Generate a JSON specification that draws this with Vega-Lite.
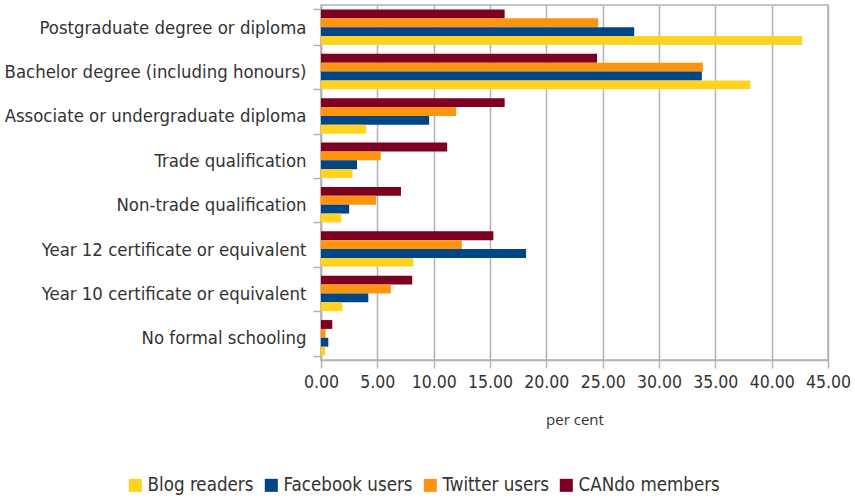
{
  "$schema": "https://vega.github.io/schema/vega-lite/v6.json",
  "width": 507,
  "height": 355,
  "autosize": {"type": "none"},
  "padding": {"left": 321, "top": 5, "right": 27, "bottom": 139},
  "data": {
    "values": [
      {"category": "Postgraduate degree or diploma", "series": "CANdo members", "value": 16.3},
      {"category": "Postgraduate degree or diploma", "series": "Twitter users", "value": 24.6},
      {"category": "Postgraduate degree or diploma", "series": "Facebook users", "value": 27.8},
      {"category": "Postgraduate degree or diploma", "series": "Blog readers", "value": 42.7},
      {"category": "Bachelor degree (including honours)", "series": "CANdo members", "value": 24.5},
      {"category": "Bachelor degree (including honours)", "series": "Twitter users", "value": 33.9},
      {"category": "Bachelor degree (including honours)", "series": "Facebook users", "value": 33.8},
      {"category": "Bachelor degree (including honours)", "series": "Blog readers", "value": 38.1},
      {"category": "Associate or undergraduate diploma", "series": "CANdo members", "value": 16.3},
      {"category": "Associate or undergraduate diploma", "series": "Twitter users", "value": 12.0},
      {"category": "Associate or undergraduate diploma", "series": "Facebook users", "value": 9.6},
      {"category": "Associate or undergraduate diploma", "series": "Blog readers", "value": 4.0},
      {"category": "Trade qualification", "series": "CANdo members", "value": 11.2},
      {"category": "Trade qualification", "series": "Twitter users", "value": 5.3},
      {"category": "Trade qualification", "series": "Facebook users", "value": 3.2},
      {"category": "Trade qualification", "series": "Blog readers", "value": 2.8},
      {"category": "Non-trade qualification", "series": "CANdo members", "value": 7.1},
      {"category": "Non-trade qualification", "series": "Twitter users", "value": 4.9},
      {"category": "Non-trade qualification", "series": "Facebook users", "value": 2.5},
      {"category": "Non-trade qualification", "series": "Blog readers", "value": 1.8},
      {"category": "Year 12 certificate or equivalent", "series": "CANdo members", "value": 15.3},
      {"category": "Year 12 certificate or equivalent", "series": "Twitter users", "value": 12.5},
      {"category": "Year 12 certificate or equivalent", "series": "Facebook users", "value": 18.2},
      {"category": "Year 12 certificate or equivalent", "series": "Blog readers", "value": 8.2},
      {"category": "Year 10 certificate or equivalent", "series": "CANdo members", "value": 8.1},
      {"category": "Year 10 certificate or equivalent", "series": "Twitter users", "value": 6.2},
      {"category": "Year 10 certificate or equivalent", "series": "Facebook users", "value": 4.2},
      {"category": "Year 10 certificate or equivalent", "series": "Blog readers", "value": 1.9},
      {"category": "No formal schooling", "series": "CANdo members", "value": 1.0},
      {"category": "No formal schooling", "series": "Twitter users", "value": 0.4},
      {"category": "No formal schooling", "series": "Facebook users", "value": 0.65},
      {"category": "No formal schooling", "series": "Blog readers", "value": 0.37}
    ]
  },
  "mark": {"type": "bar"},
  "encoding": {
    "y": {
      "field": "category",
      "type": "nominal",
      "sort": null,
      "scale": {"paddingInner": 0.2, "paddingOuter": 0.1},
      "axis": {
        "title": null,
        "labelFontSize": 18.4,
        "labelFont": "DejaVu Sans Condensed",
        "labelColor": "#333333",
        "labelPadding": 7,
        "labelLimit": 330,
        "tickBand": "extent",
        "tickSize": 8,
        "tickColor": "#b3b3b3",
        "tickWidth": 1.5,
        "domainColor": "#b3b3b3",
        "domainWidth": 1.5
      }
    },
    "yOffset": {
      "field": "series",
      "type": "nominal",
      "scale": {"domain": ["CANdo members", "Twitter users", "Facebook users", "Blog readers"], "paddingInner": 0, "paddingOuter": 0}
    },
    "x": {
      "field": "value",
      "type": "quantitative",
      "scale": {"domain": [0, 45], "nice": false},
      "axis": {
        "values": [0, 5, 10, 15, 20, 25, 30, 35, 40, 45],
        "format": ".2f",
        "title": "per cent",
        "titleFont": "Open Sans",
        "titleFontSize": 15,
        "titleFontWeight": "normal",
        "titleColor": "#333333",
        "titlePadding": 22,
        "labelFontSize": 17.5,
        "labelFont": "DejaVu Sans Condensed",
        "labelColor": "#333333",
        "labelPadding": 5,
        "labelFlush": false,
        "labelOverlap": false,
        "tickSize": 8,
        "tickColor": "#b3b3b3",
        "tickWidth": 1.5,
        "domainColor": "#b3b3b3",
        "domainWidth": 1.5,
        "grid": true,
        "gridColor": "#b3b3b3",
        "gridWidth": 1.5
      }
    },
    "color": {
      "field": "series",
      "type": "nominal",
      "scale": {
        "domain": ["Blog readers", "Facebook users", "Twitter users", "CANdo members"],
        "range": ["#ffd320", "#004586", "#ff950e", "#7e0021"]
      },
      "legend": {
        "title": null,
        "orient": "none",
        "direction": "horizontal",
        "legendX": -195,
        "legendY": 471,
        "symbolType": "square",
        "symbolSize": 170,
        "symbolStrokeWidth": 0,
        "labelFontSize": 18.6,
        "labelFont": "DejaVu Sans Condensed",
        "labelColor": "#333333",
        "labelOffset": 3,
        "labelLimit": 300,
        "columnPadding": 8
      }
    }
  },
  "config": {
    "view": {"stroke": "#b3b3b3", "strokeWidth": 1.5}
  }
}
